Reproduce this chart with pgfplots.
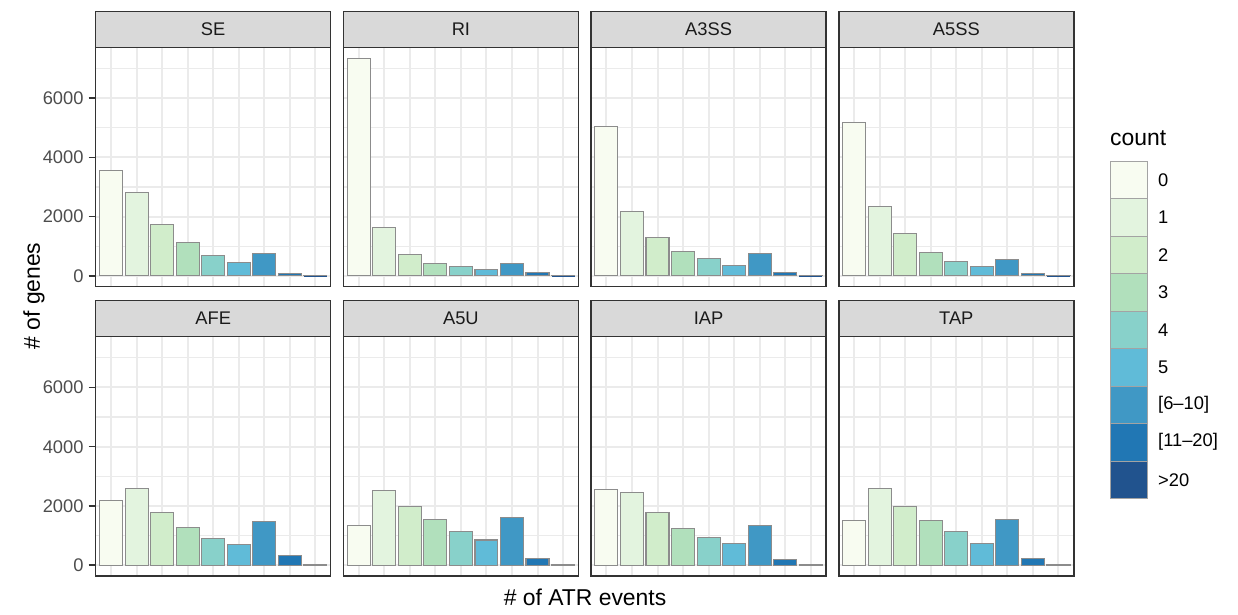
\documentclass[border=0pt]{standalone}
\usepackage{pgfplots}
\pgfplotsset{compat=1.18}
\usepackage{pgfplotstable}
\usepackage{fontspec}
\setmainfont{Liberation Sans}

% ggplot-like greys
\definecolor{grey10}{HTML}{1A1A1A}
\definecolor{grey20}{HTML}{333333}
\definecolor{grey30}{HTML}{4D4D4D}
\definecolor{grey85}{HTML}{D9D9D9}
\definecolor{grey92}{HTML}{EBEBEB}
\definecolor{barline}{HTML}{8C8C8C}
% GnBu palette (alpha 0.9 over white)
\definecolor{gnbu1}{RGB}{248,252,241}
\definecolor{gnbu2}{RGB}{227,244,223}
\definecolor{gnbu3}{RGB}{209,237,203}
\definecolor{gnbu4}{RGB}{177,224,188}
\definecolor{gnbu5}{RGB}{136,209,202}
\definecolor{gnbu6}{RGB}{96,187,216}
\definecolor{gnbu7}{RGB}{64,152,197}
\definecolor{gnbu8}{RGB}{33,119,180}
\definecolor{gnbu9}{RGB}{33,83,142}

\newcommand\tickfont{\fontsize{18.3}{22}\selectfont}
\newcommand\stripfont{\fontsize{18.3}{22}\selectfont}
\newcommand\titlefont{\fontsize{22.9}{27}\selectfont}

% number of genes per count class (x = 1..9: 0,1,2,3,4,5,[6-10],[11-20],>20)
\pgfplotstableread{
x SE   RI   A3SS A5SS AFE  A5U  IAP  TAP
1 3570 7350 5055 5190 2170 1340 2545 1500
2 2800 1645 2160 2355 2600 2525 2445 2580
3 1745 730  1305 1440 1790 1980 1775 1990
4 1135 430  835  800  1285 1540 1250 1510
5 690  305  595  475  905  1140 925  1140
6 440  205  360  325  705  850  725  735
7 745  420  765  550  1465 1620 1350 1555
8 90   125  125  80   325  235  200  235
9 2    3    2    2    3    3    3    3
}\atrdata

\pgfplotsset{
  facet/.style={
    scale only axis, width=235pt, height=239.4pt,
    xmin=0.4, xmax=9.6, ymin=-367.5, ymax=7718.5,
    axis line style={draw=grey20, line width=1.4pt},
    xtick={1,...,9}, xticklabels={}, xmajorticks=false,
    ytick={0,2000,4000,6000}, minor ytick={1000,3000,5000,7000},
    ytick pos=left,
    xmajorgrids, ymajorgrids, yminorgrids,
    major grid style={draw=grey92, line width=2pt},
    minor grid style={draw=grey92, line width=1.2pt},
    tick align=outside, minor tick length=0pt,
    tick style={draw=grey20, line width=1.4pt},
    yticklabel style={font=\tickfont, text=grey30, inner sep=0pt, xshift=-5pt},
    /pgf/number format/assume math mode=true,
  },
  facet left/.style={major tick length=7pt, yticklabels={0,2000,4000,6000}},
  facet inner/.style={major tick length=0pt, yticklabels={}},
}

% #1 event type (column and panel name), #2 left edge, #3 bottom edge, #4 extra style
\newcommand\facet[4]{%
  \begin{axis}[facet, #4, name=#1, at={(#2pt,#3pt)}, anchor=south west]
    \pgfplotsinvokeforeach{1,...,9}{%
      \addplot[ybar, bar width=0.9, bar shift=0pt, fill=gnbu##1, draw=barline,
               line width=1.1pt, restrict x to domain=##1:##1]
        table[x=x, y=#1] {\atrdata};
    }
  \end{axis}
  \draw[fill=grey85, draw=grey20, line width=1.4pt]
    (#1.north west) rectangle ([yshift=36pt]#1.north east);
  \node[font=\stripfont, text=grey10] at ([yshift=18pt]#1.north) {#1};
}

\begin{document}
\begin{tikzpicture}
  \path[use as bounding box] (0pt,0pt) rectangle (1238pt,-614pt);

  \facet{SE}{95.7}{-286.7}{facet left}
  \facet{RI}{343.4}{-286.7}{facet inner}
  \facet{A3SS}{591.1}{-286.7}{facet inner}
  \facet{A5SS}{838.8}{-286.7}{facet inner}
  \facet{AFE}{95.7}{-576}{facet left}
  \facet{A5U}{343.4}{-576}{facet inner}
  \facet{IAP}{591.1}{-576}{facet inner}
  \facet{TAP}{838.8}{-576}{facet inner}

  % axis titles
  \node[rotate=90, font=\titlefont] at (34pt,-296pt) {\# of genes};
  \node[font=\titlefont] at (585pt,-597pt) {\# of ATR events};

  % legend
  \node[font=\titlefont, anchor=base west, inner sep=0pt] at (1110pt,-145pt) {count};
  \foreach \i/\lab in {1/0, 2/1, 3/2, 4/3, 5/4, 6/5, 7/{[6–10]}, 8/{[11–20]}, 9/{>20}} {
    \pgfmathsetmacro\top{161+37.5*(\i-1)}
    \draw[fill=gnbu\i, draw=barline!80, line width=1pt]
      (1110pt,-\top pt) rectangle (1147.3pt,-\top pt-37.5pt);
    \node[font=\tickfont, anchor=west, inner sep=0pt] at (1158pt,-\top pt-18.75pt) {\lab};
  }
\end{tikzpicture}
\end{document}
